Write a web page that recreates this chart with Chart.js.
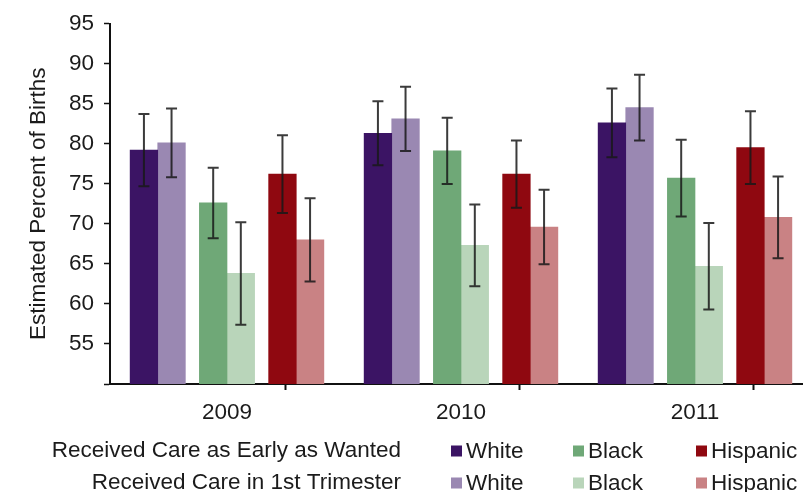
<!DOCTYPE html>
<html>
<head>
<meta charset="utf-8">
<script src="https://cdn.jsdelivr.net/npm/chart.js@4.4.1/dist/chart.umd.min.js"></script>
<style>
  html, body { margin: 0; padding: 0; background: #fff; overflow: hidden; }
  #wrap { width: 803px; height: 492px; overflow: hidden; position: relative; }
  canvas { display: block; }
</style>
</head>
<body>
<div id="wrap"><canvas id="c" width="830" height="492"></canvas></div>
<script>
// Categories and legend text
const years = ['2009', '2010', '2011'];
const groupNames = ['White', 'Black', 'Hispanic'];
const rowLabels = ['Received Care as Early as Wanted', 'Received Care in 1st Trimester'];

// Estimated percent of births
const whiteEarly = [79.2, 81.3, 82.6];
const whiteFirst = [80.1, 83.1, 84.5];
const blackEarly = [72.6, 79.1, 75.7];
const blackFirst = [63.8, 67.3, 64.7];
const hispEarly  = [76.2, 76.2, 79.5];
const hispFirst  = [68.0, 69.6, 70.8];

// Half-widths of the confidence intervals
const whiteEarlyErr = [4.5, 4.0, 4.3];
const whiteFirstErr = [4.3, 4.0, 4.1];
const blackEarlyErr = [4.4, 4.15, 4.8];
const blackFirstErr = [6.4, 5.1, 5.4];
const hispEarlyErr  = [4.85, 4.2, 4.55];
const hispFirstErr  = [5.2, 4.65, 5.1];

// Y axis ticks
const yTicks = [50, 55, 60, 65, 70, 75, 80, 85, 90, 95];

const FONT = "'Liberation Sans', Arial, Helvetica, sans-serif";
const TEXT = '#1b1b1b';

// Bar slots inside each year: white pair, black pair, hispanic pair
const slots = [-0.355, -0.237, -0.059, 0.059, 0.237, 0.355];

const series = [
  { values: whiteEarly, errors: whiteEarlyErr, color: '#3b1464' },
  { values: whiteFirst, errors: whiteFirstErr, color: '#9a88b2' },
  { values: blackEarly, errors: blackEarlyErr, color: '#6fa877' },
  { values: blackFirst, errors: blackFirstErr, color: '#b9d5ba' },
  { values: hispEarly,  errors: hispEarlyErr,  color: '#8f0810' },
  { values: hispFirst,  errors: hispFirstErr,  color: '#c98284' }
];

const datasets = series.map((s, k) => ({
  label: groupNames[Math.floor(k / 2)],
  data: s.values.map((v, i) => ({ x: i + slots[k], y: v })),
  errors: s.errors,
  backgroundColor: s.color,
  borderWidth: 0,
  grouped: false,
  barPercentage: 1,
  categoryPercentage: 1,
  maxBarThickness: 28
}));

// Whisker plugin: draws the confidence interval on each bar
const errorBars = {
  id: 'errorBars',
  afterDatasetsDraw(chart) {
    const ctx = chart.ctx;
    const ys = chart.scales.y;
    ctx.save();
    ctx.strokeStyle = 'rgba(25,25,25,0.85)';
    ctx.lineWidth = 2;
    chart.data.datasets.forEach((ds, i) => {
      chart.getDatasetMeta(i).data.forEach((bar, j) => {
        const v = ds.data[j].y, e = ds.errors[j];
        const top = ys.getPixelForValue(v + e);
        const bot = ys.getPixelForValue(v - e);
        const cap = 5.5;
        ctx.beginPath();
        ctx.moveTo(bar.x, top); ctx.lineTo(bar.x, bot);
        ctx.moveTo(bar.x - cap, top); ctx.lineTo(bar.x + cap, top);
        ctx.moveTo(bar.x - cap, bot); ctx.lineTo(bar.x + cap, bot);
        ctx.stroke();
      });
    });
    ctx.restore();
  }
};

// Two-row legend under the axis
const rowLegend = {
  id: 'rowLegend',
  afterDraw(chart) {
    const ctx = chart.ctx;
    const rowsY = [451, 483];
    const swatchX = [451, 573, 696];
    ctx.save();
    ctx.font = '22.5px ' + FONT;
    ctx.textBaseline = 'middle';
    ctx.fillStyle = TEXT;
    rowLabels.forEach((label, r) => {
      const y = rowsY[r];
      ctx.textAlign = 'right';
      ctx.fillStyle = TEXT;
      ctx.fillText(label, 401, y);
      ctx.textAlign = 'left';
      groupNames.forEach((g, k) => {
        const ds = chart.data.datasets[k * 2 + r];
        ctx.fillStyle = ds.backgroundColor;
        ctx.fillRect(swatchX[k], y - 5.5, 11, 11);
        ctx.fillStyle = TEXT;
        ctx.fillText(g, swatchX[k] + 15, y + 1);
      });
    });
    ctx.restore();
  }
};

new Chart(document.getElementById('c'), {
  type: 'bar',
  data: { datasets },
  plugins: [errorBars, rowLegend],
  options: {
    responsive: false,
    animation: false,
    layout: { padding: { top: 22, right: 18, bottom: 0, left: 0 } },
    plugins: { legend: { display: false }, tooltip: { enabled: false }, title: { display: false } },
    scales: {
      x: {
        type: 'linear',
        min: -0.5,
        max: 2.5,
        offset: false,
        afterBuildTicks(scale) {
          const t = [];
          for (let v = -0.5; v <= 2.5; v += 0.5) t.push({ value: v });
          scale.ticks = t;
        },
        afterFit(scale) { scale.height = 108; },
        ticks: {
          autoSkip: false,
          maxRotation: 0,
          padding: 9,
          color: TEXT,
          font: { family: FONT, size: 22.5 },
          callback: (v) => Number.isInteger(v) ? years[v] : ''
        },
        grid: {
          drawOnChartArea: false,
          drawTicks: true,
          tickLength: 6,
          tickWidth: 2,
          tickColor: (c) => (c.tick && !Number.isInteger(c.tick.value)) ? '#111' : 'rgba(0,0,0,0)'
        },
        border: { color: '#111', width: 2 }
      },
      y: {
        min: 50,
        max: 95,
        afterBuildTicks(scale) { scale.ticks = yTicks.map(v => ({ value: v })); },
        afterFit(scale) { scale.width = 110; },
        ticks: {
          padding: 10,
          color: TEXT,
          font: { family: FONT, size: 22.5 },
          callback: (v) => v === 50 ? '' : String(v)
        },
        grid: {
          drawOnChartArea: false,
          drawTicks: true,
          tickLength: 6,
          tickWidth: 1.5,
          tickColor: '#111'
        },
        border: { color: '#111', width: 2 },
        title: {
          display: true,
          text: 'Estimated Percent of Births',
          color: TEXT,
          font: { family: FONT, size: 22.5, weight: 'normal' },
          padding: { top: 25, bottom: 0 }
        }
      }
    }
  }
});
</script>
</body>
</html>
